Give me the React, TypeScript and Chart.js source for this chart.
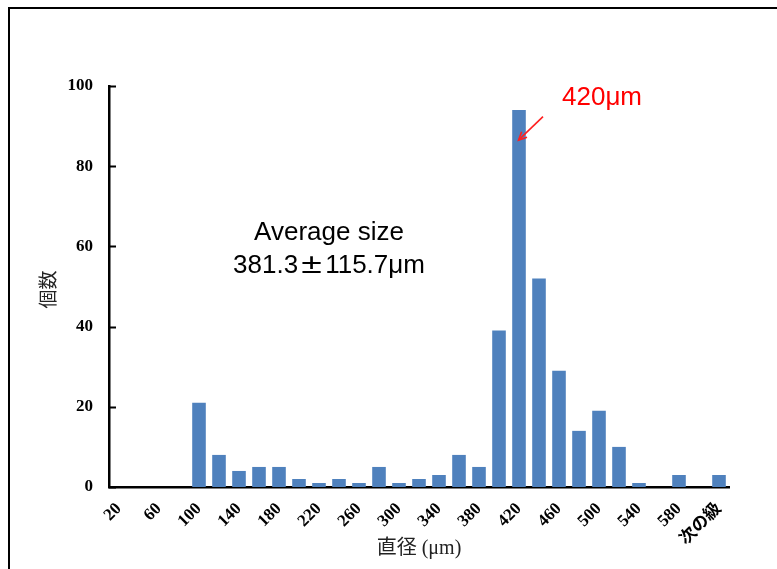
import React, { useEffect, useRef } from "react";
import { Chart, registerables } from "chart.js";

Chart.register(...registerables);

const categories = [
  "20", "40", "60", "80", "100", "120", "140", "160", "180", "200",
  "220", "240", "260", "280", "300", "320", "340", "360", "380", "400",
  "420", "440", "460", "480", "500", "520", "540", "560", "580", "600", "次の級",
];
const counts = [
  0, 0, 0, 0, 21, 8, 4, 5, 5, 2,
  1, 2, 1, 5, 1, 2, 3, 8, 5, 39,
  94, 52, 29, 14, 19, 10, 1, 0, 3, 0, 3,
];
const yTicks = [0, 20, 40, 60, 80, 100];
const xTitle = "直径 (μm)";
const yTitle = "個数";
const avgLine1 = "Average size";
const avgMean = "381.3";
const avgPm = "±";
const avgSd = "115.7μm";
const peakLabel = "420μm";
const peakIndex = 20;

const SERIF = '"Liberation Serif", "Noto Sans CJK JP", serif';
const SANS = '"Liberation Sans", Arial, sans-serif';
const CJK = '"Noto Sans CJK JP", sans-serif';

const overlay = {
  id: "overlay",
  beforeDraw(chart: any) {
    const ctx = chart.ctx;
    ctx.save();
    ctx.fillStyle = "#fff";
    ctx.fillRect(0, 0, chart.width, chart.height);
    ctx.strokeStyle = "#000";
    ctx.lineWidth = 2;
    ctx.strokeRect(9, 8, 1000, 1000);
    ctx.restore();
  },
  afterDraw(chart: any) {
    const ctx = chart.ctx;
    const xs = chart.scales.x;
    const ys = chart.scales.y;
    const area = chart.chartArea;
    ctx.save();
    // inside ticks on y axis
    ctx.strokeStyle = "#000";
    ctx.lineWidth = 2;
    yTicks.forEach((v) => {
      const py = Math.round(ys.getPixelForValue(v)) + 0.5;
      ctx.beginPath();
      ctx.moveTo(area.left, py);
      ctx.lineTo(area.left + 7, py);
      ctx.stroke();
    });

    // axis titles
    ctx.fillStyle = "#222";
    ctx.font = "20px " + SERIF;
    ctx.textAlign = "center";
    ctx.textBaseline = "middle";
    ctx.fillText(xTitle, (area.left + area.right) / 2, 549);

    ctx.save();
    ctx.translate(48, (area.top + area.bottom) / 2 + 3);
    ctx.rotate(-Math.PI / 2);
    ctx.font = "19px " + CJK;
    ctx.fillText(yTitle, 0, 0);
    ctx.restore();

    // Average annotation
    const cx = xs.getPixelForValue(10.5);
    ctx.fillStyle = "#000";
    ctx.font = "26px " + SANS;
    ctx.textAlign = "center";
    ctx.textBaseline = "alphabetic";
    ctx.fillText(avgLine1, cx, ys.getPixelForValue(61.5));
    const wa = ctx.measureText(avgMean).width;
    const wb = ctx.measureText(avgSd).width;
    const wp = 27;
    const sx = cx - (wa + wp + wb) / 2;
    const by2 = ys.getPixelForValue(53.3);
    ctx.textAlign = "left";
    ctx.fillText(avgMean, sx, by2);
    ctx.save();
    ctx.translate(sx + wa + wp / 2, by2);
    ctx.scale(1.5, 1.1);
    ctx.textAlign = "center";
    ctx.font = "25px " + SANS;
    ctx.fillText(avgPm, 0, 0);
    ctx.restore();
    ctx.textAlign = "left";
    ctx.fillText(avgSd, sx + wa + wp, by2);

    // peak annotation
    const tipX = xs.getPixelForValue(peakIndex) - 0.5;
    const tipY = ys.getPixelForValue(86.5);
    ctx.fillStyle = "#ff0000";
    ctx.font = "26px " + SANS;
    ctx.textAlign = "left";
    ctx.fillText(peakLabel, tipX + 43.5, ys.getPixelForValue(95.2));
    ctx.strokeStyle = "#ff2020";
    ctx.lineWidth = 1.6;
    const sxA = tipX + 24.5;
    const syA = tipY - 23.5;
    ctx.beginPath();
    ctx.moveTo(sxA, syA);
    ctx.lineTo(tipX, tipY);
    ctx.stroke();
    const ang = Math.atan2(tipY - syA, tipX - sxA);
    const hl = 9;
    ctx.beginPath();
    ctx.moveTo(tipX - hl * Math.cos(ang - 0.45), tipY - hl * Math.sin(ang - 0.45));
    ctx.lineTo(tipX, tipY);
    ctx.lineTo(tipX - hl * Math.cos(ang + 0.45), tipY - hl * Math.sin(ang + 0.45));
    ctx.stroke();
    ctx.restore();
  },
};

export default function App() {
  const ref = useRef<HTMLCanvasElement | null>(null);
  useEffect(() => {
    if (!ref.current) return;
    const chart = new Chart(ref.current, {
      type: "bar",
      data: {
        labels: categories,
        datasets: [
          {
            data: counts,
            backgroundColor: "#4f81bd",
            borderWidth: 0,
            categoryPercentage: 1,
            barPercentage: 0.68,
          },
        ],
      },
      options: {
        animation: false,
        responsive: false,
        devicePixelRatio: 1,
        layout: { padding: { left: 0, right: 48, top: 86, bottom: 0 } },
        plugins: { legend: { display: false }, tooltip: { enabled: false } },
        scales: {
          x: {
            grid: { display: false, drawTicks: false },
            border: { display: true, color: "#000", width: 2.5 },
            ticks: {
              autoSkip: false,
              minRotation: 45,
              maxRotation: 45,
              padding: 12,
              color: "#000",
              font: { family: SERIF, weight: "bold", size: 17 },
              callback: (_v: any, i: number) => (i % 2 === 0 ? categories[i] : ""),
            },
            afterFit: (s: any) => {
              s.height = 82;
            },
          },
          y: {
            min: 0,
            max: 100,
            grid: { display: false, drawTicks: false },
            border: { display: true, color: "#000", width: 2.5 },
            ticks: {
              stepSize: 20,
              padding: 16,
              color: "#000",
              font: { family: SERIF, weight: "bold", size: 17 },
            },
            afterFit: (s: any) => {
              s.width = 109;
            },
          },
        },
      } as any,
      plugins: [overlay],
    });
    return () => chart.destroy();
  }, []);
  return (
    <div style={{ position: "fixed", left: 0, top: 0, width: 777, height: 569 }}>
      <canvas ref={ref} width={777} height={569} style={{ display: "block", width: 777, height: 569 }} />
    </div>
  );
}
